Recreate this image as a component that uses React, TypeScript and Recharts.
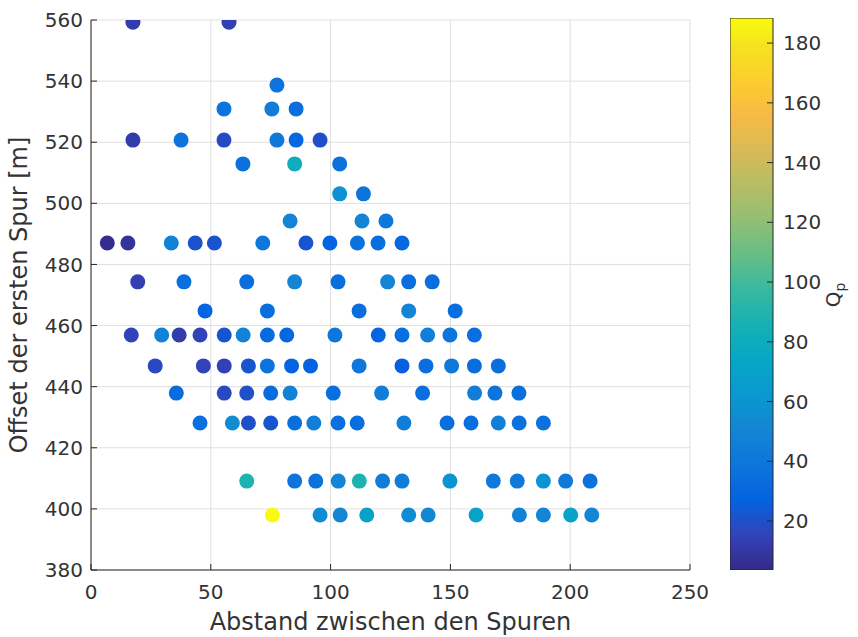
import { ScatterChart, Scatter, XAxis, YAxis, CartesianGrid, ComposedChart, Bar } from 'recharts';

// axis ticks
const xTicks = [0, 50, 100, 150, 200, 250];
const yTicks = [380, 400, 420, 440, 460, 480, 500, 520, 540, 560];
const qTicks = [20, 40, 60, 80, 100, 120, 140, 160, 180];
const qRange = [3.6, 188.4];

// one entry per offset row (Offset der ersten Spur)
const offsetRows = [559.3, 538.7, 530.9, 520.7, 512.9, 503.1, 494.2, 487.0, 474.3, 464.8, 456.9, 446.8, 437.9, 428.1, 409.1, 398.0];

const abstandRows = [
  [17.5, 57.6],
  [77.6],
  [55.5, 75.5, 85.6],
  [17.5, 37.6, 55.5, 77.6, 85.6, 95.6],
  [63.4, 85.0, 103.8],
  [103.8, 113.7],
  [83.1, 113.1, 123.1],
  [6.8, 15.4, 33.5, 43.5, 51.5, 71.7, 89.7, 99.7, 111.2, 119.8, 129.8],
  [19.5, 38.8, 65.0, 85.0, 103.1, 123.8, 132.6, 142.4],
  [47.6, 73.6, 111.9, 132.6, 152.0],
  [16.8, 29.5, 36.8, 45.5, 55.6, 63.5, 73.6, 81.7, 101.8, 119.9, 129.8, 140.5, 149.8, 160.0],
  [26.8, 46.9, 55.6, 65.7, 73.6, 83.7, 91.6, 111.9, 129.8, 139.8, 150.5, 160.0, 170.0],
  [35.6, 55.6, 65.0, 75.0, 83.1, 101.1, 121.3, 138.4, 160.1, 168.6, 178.6],
  [45.5, 59.0, 65.7, 75.0, 85.0, 93.0, 103.1, 111.1, 130.6, 148.6, 158.6, 170.0, 178.7, 188.8],
  [65.0, 85.0, 93.8, 103.2, 112.0, 121.7, 129.8, 149.8, 167.9, 177.9, 188.8, 198.1, 208.3],
  [75.7, 95.6, 104.0, 115.1, 132.6, 140.7, 160.7, 178.8, 188.8, 200.2, 209.0],
];

const qpRows = [
  [12, 14],
  [38],
  [38, 45, 35],
  [12, 38, 18, 42, 30, 20],
  [36, 80, 36],
  [58, 38],
  [50, 50, 40],
  [5, 8, 48, 21, 21, 40, 22, 28, 36, 34, 30],
  [14, 35, 35, 50, 35, 50, 35, 35],
  [28, 35, 35, 50, 35],
  [15, 48, 12, 15, 22, 48, 33, 30, 40, 28, 34, 46, 38, 34],
  [18, 15, 14, 22, 38, 28, 27, 40, 26, 35, 42, 35, 35],
  [33, 18, 20, 33, 48, 35, 45, 35, 45, 38, 35],
  [35, 55, 20, 22, 35, 46, 35, 35, 46, 35, 35, 46, 36, 36],
  [88, 38, 36, 50, 88, 45, 45, 60, 42, 42, 60, 42, 36],
  [188, 55, 50, 70, 55, 52, 72, 48, 50, 72, 50],
];

// parula colormap, every 4th entry of the 64-colour table
const parulaIdx = [0, 4, 8, 12, 16, 20, 24, 28, 32, 36, 40, 44, 48, 52, 56, 60, 63];
const parulaHex = ['#352a87', '#3243ba', '#0363e1', '#0d75dc', '#1485d4', '#0998d1', '#06a7c6', '#15b1b4', '#38b99e', '#65be86', '#92bf73', '#b7bd64', '#d9ba56', '#f8ba44', '#fcce2e', '#f5e41d', '#f9fb0e'];

const hexRgb = (h: string) => [1, 3, 5].map((i) => parseInt(h.slice(i, i + 2), 16));

function parula(q: number) {
  let t = (q - qRange[0]) / (qRange[1] - qRange[0]);
  t = Math.max(0, Math.min(1, t));
  const pos = t * 63;
  let k = 0;
  while (k < parulaIdx.length - 2 && pos > parulaIdx[k + 1]) k++;
  const f = (pos - parulaIdx[k]) / (parulaIdx[k + 1] - parulaIdx[k]);
  const a = hexRgb(parulaHex[k]);
  const b = hexRgb(parulaHex[k + 1]);
  const c = a.map((v, i) => Math.round(v + (b[i] - v) * f));
  return `rgb(${c[0]},${c[1]},${c[2]})`;
}

const points = offsetRows.flatMap((y, r) => abstandRows[r].map((x, i) => ({ x, y, q: qpRows[r][i] })));
const colorbarData = [{ name: 'Qp', range: qRange }];

const ink = '#262626';
const textFill = '#333333';

export default function App() {
  return (
    <div style={{ position: 'absolute', left: 0, top: 0, width: 858, height: 637, background: '#fff', fontFamily: "'DejaVu Sans', sans-serif" }}>
      <ScatterChart width={858} height={637} margin={{ top: 20, right: 168, bottom: 0, left: 0 }}>
        <CartesianGrid stroke="#dfdfdf" strokeWidth={1} />
        <XAxis
          type="number"
          dataKey="x"
          domain={[0, 250]}
          ticks={xTicks}
          allowDataOverflow
          height={67}
          tickSize={-6}
          tickMargin={21}
          stroke={ink}
          tick={{ fontSize: 20, fill: textFill }}
          label={{ value: 'Abstand zwischen den Spuren', position: 'insideBottom', offset: 7, fontSize: 24, fill: textFill }}
        />
        <YAxis
          type="number"
          dataKey="y"
          domain={[380, 560]}
          ticks={yTicks}
          allowDataOverflow
          width={91}
          tickSize={-6}
          tickMargin={14}
          stroke={ink}
          tick={{ fontSize: 20, fill: textFill }}
          label={{
            content: () => (
              <text x={27} y={295} transform="rotate(-90, 27, 295)" textAnchor="middle" fontSize={24} fill={textFill}>
                Offset der ersten Spur [m]
              </text>
            ),
          }}
        />
        <Scatter
          data={points}
          isAnimationActive={false}
          shape={(p: any) => <circle cx={p.cx} cy={p.cy} r={7.5} fill={parula(p.payload.q)} />}
        />
      </ScatterChart>

      <div style={{ position: 'absolute', left: 730, top: 18 }}>
        <ComposedChart width={128} height={552} margin={{ top: 0, right: 0, bottom: 0, left: 0 }} data={colorbarData} barCategoryGap={0}>
          <defs>
            <linearGradient id="parulaGrad" x1="0" y1="1" x2="0" y2="0">
              {parulaIdx.map((idx, i) => (
                <stop key={idx} offset={idx / 63} stopColor={parulaHex[i]} />
              ))}
            </linearGradient>
          </defs>
          <Bar dataKey="range" fill="url(#parulaGrad)" stroke={ink} strokeWidth={1} isAnimationActive={false} />
          <XAxis dataKey="name" type="category" hide />
          <YAxis
            type="number"
            orientation="right"
            domain={qRange}
            ticks={qTicks}
            allowDataOverflow
            width={85}
            axisLine={false}
            tickSize={-6}
            tickMargin={16}
            stroke={ink}
            tick={{ fontSize: 20, fill: textFill, textAnchor: 'start' }}
            label={{
              content: () => (
                <text x={110} y={277} transform="rotate(-90, 110, 277)" textAnchor="middle" fontSize={20} fill={textFill}>
                  Q<tspan fontSize={14} dy={5}>p</tspan>
                </text>
              ),
            }}
          />
        </ComposedChart>
      </div>
    </div>
  );
}
